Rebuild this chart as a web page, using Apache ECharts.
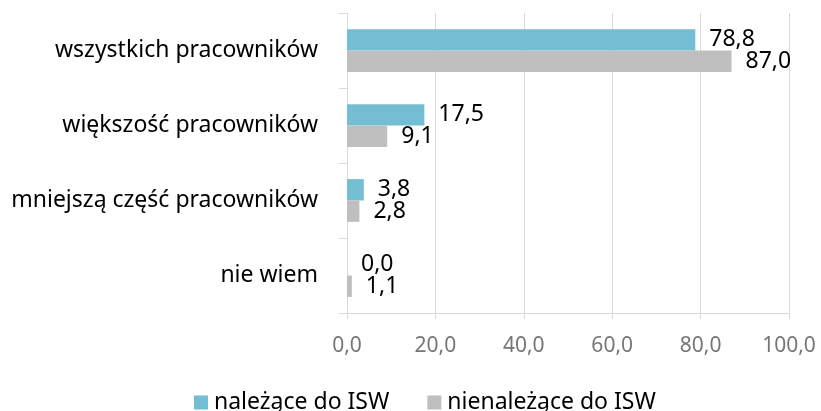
<!DOCTYPE html>
<html lang="pl">
<head>
    <meta charset="UTF-8">
    <title>ISW</title>
    <style type="text/css">
        body{ margin:0; background:#fff; }
        #main{ width:821px; height:411px; }
    </style>
</head>
<body>
<div id="main"></div>
<script type="text/javascript" src="https://cdn.jsdelivr.net/npm/echarts@6/dist/echarts.min.js"></script>
<script type="text/javascript">
    // kategorie i wartości (%)
    var categories = ['wszystkich pracowników', 'większość pracowników', 'mniejszą część pracowników', 'nie wiem'];
    var seriesNames = ['należące do ISW', 'nienależące do ISW'];
    var isw = [78.8, 17.5, 3.8, 0.0];
    var nonIsw = [87.0, 9.1, 2.8, 1.1];
    var xTicks = [0, 20, 40, 60, 80, 100];

    function pl(v) { return Number(v).toFixed(1).replace('.', ','); }

    var font = 'Noto Sans';
    var myChart = echarts.init(document.getElementById('main'));
    var option = {
        animation: false,
        textStyle: { fontFamily: font },
        grid: { left: 347, top: 13, width: 442, height: 300, containLabel: false },
        legend: {
            top: 386,
            left: 189,
            icon: 'rect',
            itemWidth: 14,
            itemHeight: 14,
            itemGap: 38,
            textStyle: { fontFamily: font, fontSize: 23, color: '#000', padding: [0, 0, 0, 1] },
            data: seriesNames
        },
        xAxis: {
            type: 'value',
            min: xTicks[0],
            max: xTicks[xTicks.length - 1],
            interval: 20,
            axisLine: { show: true, lineStyle: { color: '#d9d9d9', width: 1 } },
            axisTick: { show: true, length: 6, lineStyle: { color: '#d9d9d9' } },
            splitLine: { show: true, lineStyle: { color: '#d9d9d9', width: 1 } },
            axisLabel: { color: '#767676', fontSize: 21, margin: 23, formatter: pl }
        },
        yAxis: {
            type: 'category',
            inverse: true,
            data: categories,
            axisLine: { show: true, lineStyle: { color: '#d9d9d9', width: 1 } },
            axisTick: { show: true, length: 8, inside: false, lineStyle: { color: '#d9d9d9' } },
            axisLabel: { color: '#000', fontSize: 23, margin: 29 }
        },
        series: [
            {
                name: seriesNames[0],
                type: 'bar',
                data: isw,
                barGap: '0%',
                barCategoryGap: '43%',
                itemStyle: { color: '#73bed3' },
                label: { show: true, position: 'right', distance: 14, color: '#000', fontSize: 23, formatter: function (p) { return pl(p.value); } }
            },
            {
                name: seriesNames[1],
                type: 'bar',
                data: nonIsw,
                barGap: '0%',
                barCategoryGap: '43%',
                itemStyle: { color: '#bfbfbf' },
                label: { show: true, position: 'right', distance: 14, color: '#000', fontSize: 23, formatter: function (p) { return pl(p.value); } }
            }
        ]
    };
    myChart.setOption(option);
</script>
</body>
</html>
